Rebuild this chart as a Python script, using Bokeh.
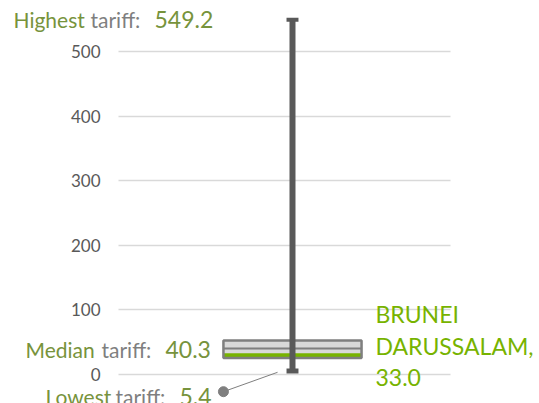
from bokeh.plotting import figure
from bokeh.models import Range1d, Label, FixedTicker, Grid
from bokeh.core.properties import value
from bokeh.embed import file_html
from bokeh.resources import INLINE

# ---- data ----
country = ["BRUNEI", "DARUSSALAM,"]
country_value = 33.0
lowest = 5.4
q1 = 25.5
median = 40.3
q3 = 52.5
highest = 549.2
y_ticks = [0, 100, 200, 300, 400, 500]

# ---- styles ----
OLIVE = "#77933c"
GREY = "#7f7f7f"
BRIGHT = "#77b300"
DARK = "#595959"
FONT = "Lato"
bw = 0.208      # half box width (x units)
cw = 0.018      # half cap width
gl0, gl1 = -0.524, 0.476   # plot-area extent in x

p = figure(width=539, height=403, output_backend="svg", toolbar_location=None,
           x_range=Range1d(-0.8795, 0.744), y_range=Range1d(-44.9, 578.9),
           x_axis_type=None, y_axis_type=None, min_border=0)
p.outline_line_color = None
p.background_fill_color = "white"
p.border_fill_color = "white"

grid = Grid(dimension=1, ticker=FixedTicker(ticks=y_ticks), cross_bounds=(gl0, gl1),
            grid_line_color="#d9d9d9", grid_line_width=1.5)
p.add_layout(grid)

# tick labels
p.text(x=[gl0] * len(y_ticks), y=y_ticks, text=[str(t) for t in y_ticks],
       x_offset=-18, text_align="right", text_baseline="middle",
       text_font=value(FONT), text_font_size=value("17px"), text_color=DARK)

# box
p.quad(left=[-bw], right=[bw], bottom=[q1], top=[q3], fill_color="#d9d9d9", line_color=None)
p.quad(left=[-bw], right=[bw], bottom=[q1], top=[country_value], fill_color=BRIGHT, line_color=None)
p.segment(x0=[-bw], x1=[bw], y0=[median], y1=[median], line_color=GREY, line_width=2)
p.quad(left=[-bw], right=[bw], bottom=[q1], top=[q3], fill_alpha=0, line_color=GREY, line_width=2.5)

# whisker
p.segment(x0=[0], x1=[0], y0=[lowest], y1=[highest], line_color=DARK, line_width=6)
p.segment(x0=[-cw], x1=[cw], y0=[highest], y1=[highest], line_color=DARK, line_width=4)
p.segment(x0=[-cw], x1=[cw], y0=[lowest], y1=[lowest], line_color=DARK, line_width=5)

# callout to lowest
dot_x, dot_y = -bw, lowest - 32
p.segment(x0=[dot_x], y0=[dot_y], x1=[-0.045], y1=[lowest - 2], line_color=GREY, line_width=1)
p.scatter(x=[dot_x], y=[dot_y], size=10, color=GREY)

def lab(x, y, text, color, size, dy, align="left"):
    p.add_layout(Label(x=x, y=y, x_units="screen", y_units="data", text=text,
                       text_color=color, text_font=FONT, text_font_size=size,
                       text_baseline="alphabetic", text_align=align, y_offset=dy))

# highest
lab(13, highest, "Highest", OLIVE, "21px", 0)
lab(90, highest, "tariff:", GREY, "21px", 0)
lab(154, highest, f"{highest:.1f}", OLIVE, "23px", 0)
# median
lab(25, median, "Median", OLIVE, "21px", -1)
lab(101, median, "tariff:", GREY, "21px", -1)
lab(165, median, f"{median:.1f}", OLIVE, "23px", -1)
# lowest
lab(45, lowest, "Lowest", OLIVE, "21px", -25)
lab(115, lowest, "tariff:", GREY, "21px", -25)
lab(179, lowest, f"{lowest:.1f}", OLIVE, "23px", -25)
# country
lab(375, country_value, country[0], BRIGHT, "23px", 39)
lab(375, country_value, country[1], BRIGHT, "23px", 7.5)
lab(375, country_value, f"{country_value:.1f}", BRIGHT, "23px", -24)

open("out.html", "w").write(file_html(p, INLINE))
